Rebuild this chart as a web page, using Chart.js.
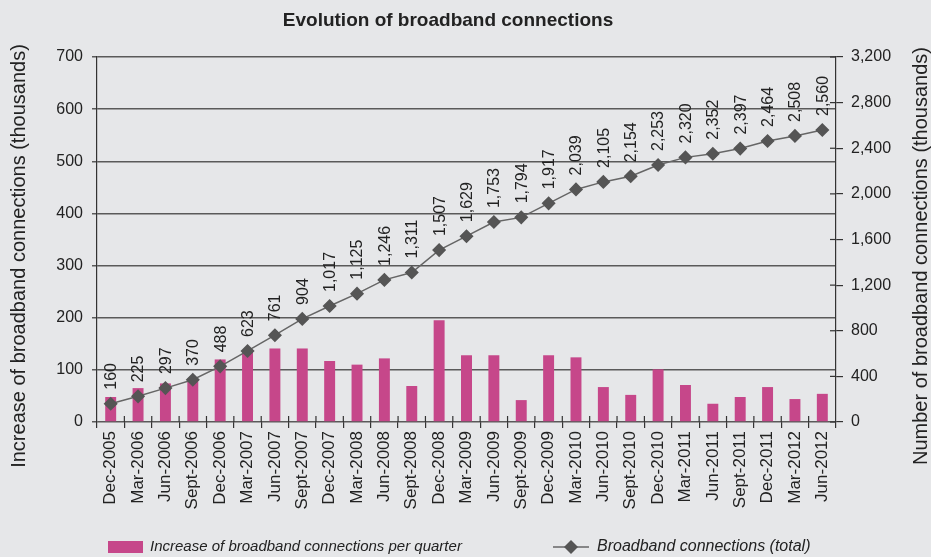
<!DOCTYPE html>
<html>
<head>
<meta charset="utf-8">
<script src="https://cdn.jsdelivr.net/npm/chart.js@4"></script>
<style>
  body { margin: 0; background: #e6e7e9; }
  #wrap { width: 931px; height: 557px; position: relative; }
</style>
</head>
<body>
<div id="wrap"><canvas id="chart"></canvas></div>
<script>
const categories = ['Dec-2005', 'Mar-2006', 'Jun-2006', 'Sept-2006', 'Dec-2006', 'Mar-2007', 'Jun-2007',
  'Sept-2007', 'Dec-2007', 'Mar-2008', 'Jun-2008', 'Sept-2008', 'Dec-2008', 'Mar-2009', 'Jun-2009',
  'Sept-2009', 'Dec-2009', 'Mar-2010', 'Jun-2010', 'Sept-2010', 'Dec-2010', 'Mar-2011', 'Jun-2011',
  'Sept-2011', 'Dec-2011', 'Mar-2012', 'Jun-2012'];
const increasePerQuarter = [48, 65, 74, 78, 120, 136, 141, 141, 117, 110, 122, 69, 195, 128, 128,
  42, 128, 124, 67, 52, 101, 71, 35, 48, 67, 44, 54];
const totalConnections = [160, 225, 297, 370, 488, 623, 761, 904, 1017, 1125, 1246, 1311, 1507, 1629, 1753,
  1794, 1917, 2039, 2105, 2154, 2253, 2320, 2352, 2397, 2464, 2508, 2560];
const leftTicks = [0, 100, 200, 300, 400, 500, 600, 700];
const rightTicks = [0, 400, 800, 1200, 1600, 2000, 2400, 2800, 3200];

const FONT = "'Liberation Sans', Arial, sans-serif";
const PINK = '#c6478a';
const GREY = '#555555';
const fmt = v => v.toLocaleString('en-US');

function vText(ctx, text, x, y) {
  ctx.save();
  ctx.translate(x, y);
  ctx.rotate(-Math.PI / 2);
  ctx.fillText(text, 0, 0);
  ctx.restore();
}

// title, axis titles, point labels, inward ticks and legend
const extras = {
  id: 'extras',
  afterDatasetsDraw(chart) {
    const ctx = chart.ctx;
    const meta = chart.getDatasetMeta(1);
    ctx.save();
    ctx.fillStyle = '#222';
    ctx.font = '16px ' + FONT;
    ctx.textAlign = 'left';
    ctx.textBaseline = 'middle';
    meta.data.forEach((pt, i) => {
      vText(ctx, fmt(totalConnections[i]), pt.x + 1, pt.y - 14);
    });
    ctx.restore();
  },
  afterDraw(chart) {
    const ctx = chart.ctx;
    const area = chart.chartArea;
    ctx.save();
    // inward ticks on the right axis
    const y1 = chart.scales.y1;
    ctx.strokeStyle = '#333';
    ctx.lineWidth = 1.2;
    rightTicks.forEach(v => {
      const y = y1.getPixelForValue(v);
      ctx.beginPath();
      ctx.moveTo(area.right - 6, y);
      ctx.lineTo(area.right, y);
      ctx.stroke();
    });
    // inward ticks on category axis
    const x = chart.scales.x;
    const step = x.getPixelForTick(1) - x.getPixelForTick(0);
    for (let i = 0; i <= categories.length; i++) {
      const px = x.getPixelForTick(0) + (i - 0.5) * step;
      if (px <= area.left + 1 || px >= area.right - 1) continue;
      ctx.beginPath();
      ctx.moveTo(px, area.bottom - 6);
      ctx.lineTo(px, area.bottom);
      ctx.stroke();
    }
    // title
    ctx.fillStyle = '#222';
    ctx.font = 'bold 19px ' + FONT;
    ctx.textAlign = 'center';
    ctx.textBaseline = 'middle';
    ctx.fillText('Evolution of broadband connections', 448, 21);
    // axis titles, both reading bottom to top
    ctx.font = '20px ' + FONT;
    vText(ctx, 'Increase of broadband connections (thousands)', 19, 256);
    vText(ctx, 'Number of broadband connections (thousands)', 921, 256);
    // legend
    const ly = 547;
    ctx.fillStyle = PINK;
    ctx.fillRect(108, ly - 6, 35, 12);
    ctx.fillStyle = '#222';
    ctx.font = 'italic 15px ' + FONT;
    ctx.textAlign = 'left';
    ctx.fillText('Increase of broadband connections per quarter', 150, ly);
    ctx.strokeStyle = '#666';
    ctx.lineWidth = 1.5;
    ctx.beginPath();
    ctx.moveTo(553, ly);
    ctx.lineTo(589, ly);
    ctx.stroke();
    ctx.fillStyle = GREY;
    ctx.beginPath();
    ctx.moveTo(571, ly - 7);
    ctx.lineTo(578, ly);
    ctx.lineTo(571, ly + 7);
    ctx.lineTo(564, ly);
    ctx.closePath();
    ctx.fill();
    ctx.fillStyle = '#222';
    ctx.font = 'italic 16px ' + FONT;
    ctx.fillText('Broadband connections (total)', 597, ly);
    ctx.restore();
  }
};

new Chart(document.getElementById('chart'), {
  data: {
    labels: categories,
    datasets: [
      {
        type: 'bar',
        label: 'Increase of broadband connections per quarter',
        data: increasePerQuarter,
        backgroundColor: PINK,
        yAxisID: 'y',
        barPercentage: 0.8,
        categoryPercentage: 0.5,
        order: 2
      },
      {
        type: 'line',
        label: 'Broadband connections (total)',
        data: totalConnections,
        borderColor: '#666',
        borderWidth: 1.5,
        pointStyle: 'rectRot',
        pointRadius: 6,
        pointBackgroundColor: GREY,
        pointBorderColor: GREY,
        yAxisID: 'y1',
        order: 1
      }
    ]
  },
  options: {
    responsive: true,
    maintainAspectRatio: false,
    animation: false,
    layout: { padding: { top: 57, bottom: 42, left: 0, right: 0 } },
    plugins: {
      legend: { display: false },
      title: { display: false },
      tooltip: { enabled: false }
    },
    scales: {
      x: {
        offset: true,
        grid: { offset: true, drawOnChartArea: false, color: '#333', lineWidth: 1.2, tickLength: 6 },
        border: { display: false },
        ticks: { color: '#222', font: { family: FONT, size: 17 }, minRotation: 90, maxRotation: 90, autoSkip: false, padding: 3 },
        afterFit: s => { s.height = 93; }
      },
      y: {
        position: 'left',
        min: 0,
        max: 700,
        afterBuildTicks: s => { s.ticks = leftTicks.map(v => ({ value: v })); },
        grid: { color: '#5a5a5a', lineWidth: 1.5, tickLength: 5 },
        border: { color: '#333', width: 1.2 },
        ticks: { color: '#222', font: { family: FONT, size: 16 }, padding: 9 },
        afterFit: s => { s.width = 97; }
      },
      y1: {
        position: 'right',
        min: 0,
        max: 3200,
        afterBuildTicks: s => { s.ticks = rightTicks.map(v => ({ value: v })); },
        grid: { drawOnChartArea: false, color: '#333', lineWidth: 1.2, tickLength: 7 },
        border: { color: '#333', width: 1.2 },
        ticks: { color: '#222', font: { family: FONT, size: 16 }, padding: 8, callback: v => fmt(v) },
        afterFit: s => { s.width = 95; }
      }
    }
  },
  plugins: [extras]
});
</script>
</body>
</html>
